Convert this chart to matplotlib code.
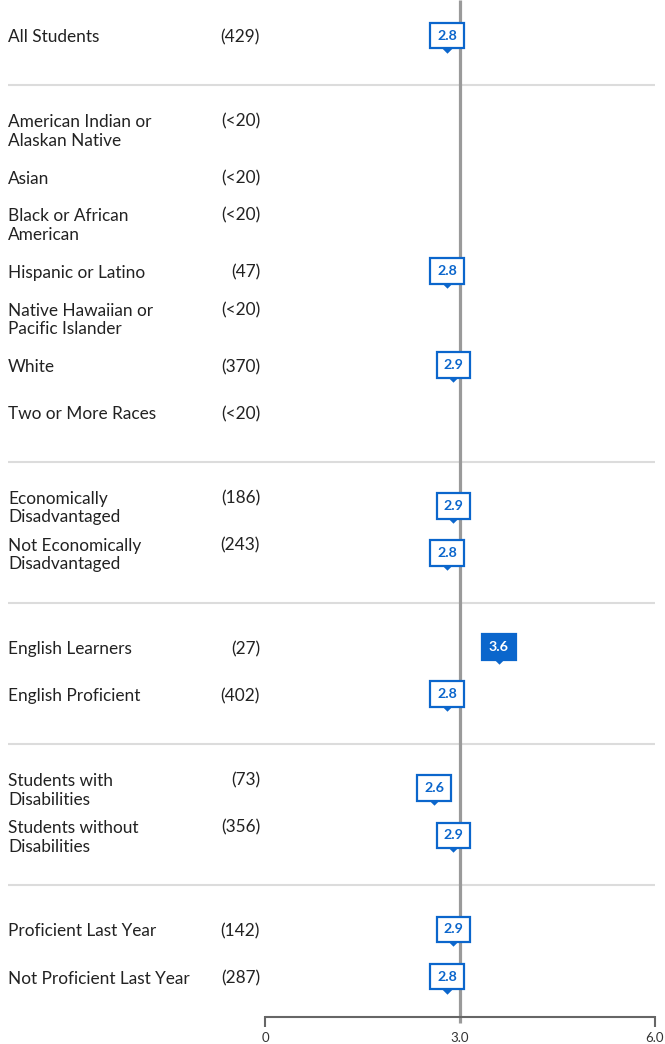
import matplotlib
matplotlib.use("Agg")
import matplotlib.pyplot as plt
import matplotlib.transforms as mtransforms

plt.rcParams["font.family"] = ["Lato", "DejaVu Sans"]

# groups of rows: label, count, score (None = not reported)
groups = [
    [("All Students", "(429)", 2.8)],
    [
        ("American Indian or\nAlaskan Native", "(<20)", None),
        ("Asian", "(<20)", None),
        ("Black or African\nAmerican", "(<20)", None),
        ("Hispanic or Latino", "(47)", 2.8),
        ("Native Hawaiian or\nPacific Islander", "(<20)", None),
        ("White", "(370)", 2.9),
        ("Two or More Races", "(<20)", None),
    ],
    [
        ("Economically\nDisadvantaged", "(186)", 2.9),
        ("Not Economically\nDisadvantaged", "(243)", 2.8),
    ],
    [
        ("English Learners", "(27)", 3.6),
        ("English Proficient", "(402)", 2.8),
    ],
    [
        ("Students with\nDisabilities", "(73)", 2.6),
        ("Students without\nDisabilities", "(356)", 2.9),
    ],
    [
        ("Proficient Last Year", "(142)", 2.9),
        ("Not Proficient Last Year", "(287)", 2.8),
    ],
]
highlight = ["English Learners"]
state_avg = 3.0
x_ticks = [0, 3.0, 6.0]
x_tick_labels = ["0", "3.0", "6.0"]

W, H = 665, 1044
fig = plt.figure(figsize=(W / 100, H / 100), dpi=100)
ax = fig.add_axes([265 / W, 0, (655 - 265) / W, 1])
ax.set_xlim(0, 6)
ax.set_ylim(H, 0)
ax.axis("off")
lab_tr = mtransforms.blended_transform_factory(fig.transFigure, ax.transData)

blue = "#0b66cc"
txt = "#222222"
row_h = 47.1
y = 36
rows = []
separators = []
for gi, g in enumerate(groups):
    if gi > 0:
        y += 45
    for ri, r in enumerate(g):
        if ri > 0:
            y += row_h
        rows.append((y, r))
    if gi < len(groups) - 1:
        y += 49
        separators.append(y)
axis_y = y + 39.5

for s in separators:
    ax.plot([8 / W, 655 / W], [s, s], color="#dcdcdc", lw=1.5,
            transform=lab_tr, clip_on=False, solid_capstyle="butt")

ax.plot([state_avg, state_avg], [0, axis_y + 6], color="#9a9a9a", lw=2.3,
        zorder=2, solid_capstyle="butt")

# small downward pointer under each score box
pointer = [(-1, 0), (1, 0), (0, -1), (-1, 0)]

for ry, (label, count, score) in rows:
    nlines = label.count("\n") + 1
    ax.text(8 / W, ry + 1.5, label, transform=lab_tr, ha="left", va="center",
            fontsize=12.4, color=txt, linespacing=1.2)
    ax.text(260 / W, ry + 1.5 - 10 * (nlines - 1), count, transform=lab_tr,
            ha="right", va="center", fontsize=12.4, color=txt)
    if score is None:
        continue
    filled = label in highlight
    ax.text(score, ry - 0.5, f"{score:.1f}", ha="center", va="center",
            fontsize=10.3, fontweight="bold",
            color="white" if filled else blue, zorder=5,
            bbox=dict(boxstyle="square,pad=0.48", fc=blue if filled else "white",
                      ec=blue, lw=1.6))
    ax.plot(score, ry + 11.5, marker=pointer, ms=7.5, color=blue, mec=blue,
            mew=0, zorder=6)

# score axis
ax.plot([0, 6], [axis_y, axis_y], color="#666666", lw=1.5, clip_on=False,
        solid_capstyle="butt")
for t, tl in zip(x_ticks, x_tick_labels):
    if t != state_avg:
        ax.plot([t, t], [axis_y - 0.5, axis_y + 10], color="#666666", lw=1.5,
                clip_on=False, solid_capstyle="butt")
    ax.text(t, axis_y + 21, tl, ha="center", va="center", fontsize=9.5,
            color="#333333", clip_on=False)

fig.savefig("out.png", dpi=100)
